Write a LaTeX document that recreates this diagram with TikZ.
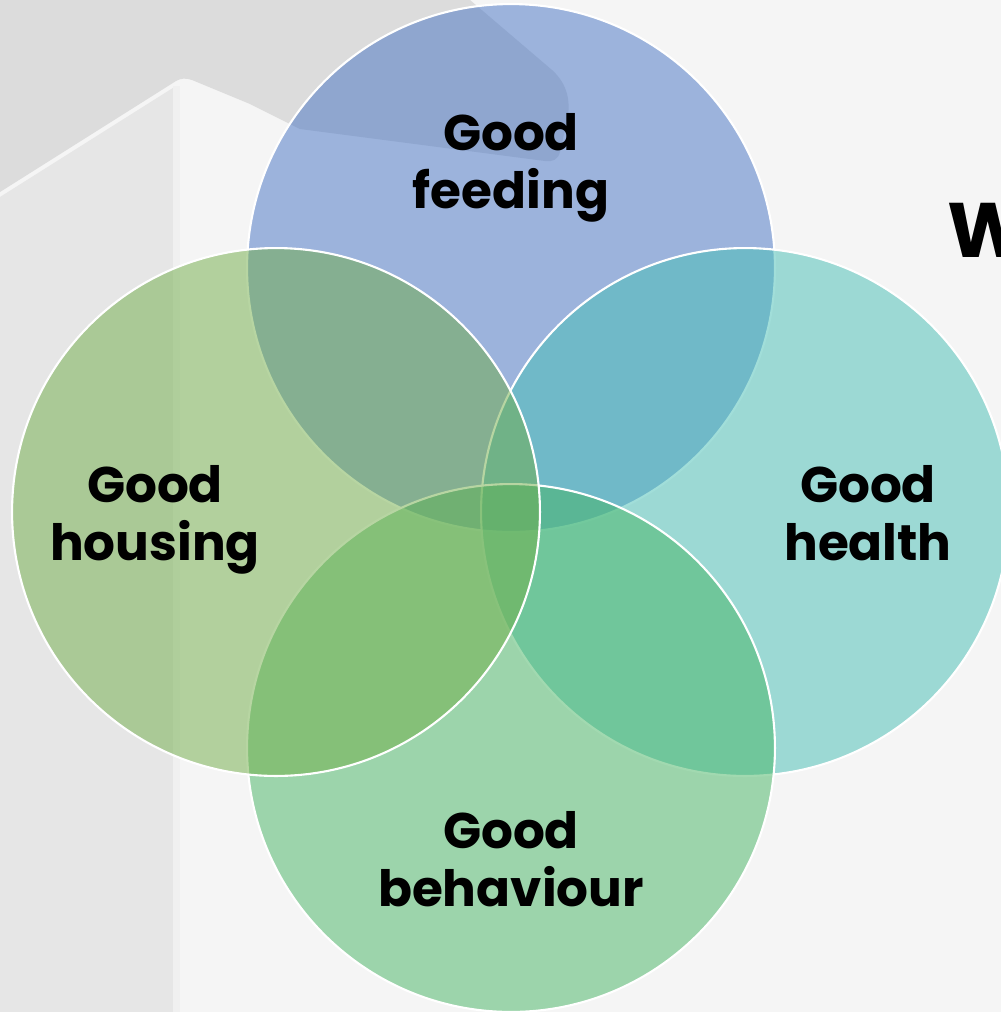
\documentclass[tikz,border=0pt]{standalone}
\usepackage{fontspec}
\setmainfont{Poppins}
\begin{document}
\begin{tikzpicture}[x=0.02cm,y=-0.02cm,
  venn/.style={circle, minimum size=10.56cm, inner sep=0pt, draw=white, line width=1.2pt, fill opacity=0.5},
  lbl/.style={align=center, font=\fontsize{28.5}{33}\selectfont\bfseries, text=black, anchor=base, inner sep=0pt}]
\useasboundingbox (0,0) rectangle (1001,1012);
\clip (0,0) rectangle (1001,1012);
% background
\fill[fill={rgb,255:red,245;green,245;blue,245}] (0,0) rectangle (1001,1012);
\fill[fill={rgb,255:red,230;green,230;blue,230}] (0,197) -- (176,86) -- (176,1012) -- (0,1012) -- cycle;
\fill[fill={rgb,255:red,240;green,240;blue,240}] (173,86) rectangle (180,1012);
\fill[fill={rgb,255:red,220;green,220;blue,220}] (0,0) -- (470,0) -- (552,70)
  .. controls (572,88) and (570,110) .. (566,125) -- (560,152)
  .. controls (558,160) and (552,162) .. (545,161) -- (300,129) -- (250,104)
  -- (192,80) .. controls (186,78) and (181,78) .. (176,81) -- (0,192) -- cycle;
% circles
\node[venn, fill={rgb,255:red,68;green,114;blue,196}] (feed) at (511,268) {};
\node[venn, fill={rgb,255:red,69;green,191;blue,181}] (health) at (745,512) {};
\node[venn, fill={rgb,255:red,69;green,181;blue,99}] (behav) at (511,748) {};
\node[venn, fill={rgb,255:red,112;green,173;blue,71}] (house) at (276,512) {};
% labels (anchor = baseline of the last line)
\node[lbl] (tfeed) at (511,208) {Good\\feeding};
\node[lbl] (thouse) at (155,560) {Good\\housing};
\node[lbl] (thealth) at (868,560) {Good\\health};
\node[lbl] (tbehav) at (511,906) {Good\\behaviour};
\node[font=\fontsize{44}{44}\selectfont\bfseries, anchor=base west, inner sep=0pt] (tw) at (947,257) {W};
\end{tikzpicture}
\end{document}
